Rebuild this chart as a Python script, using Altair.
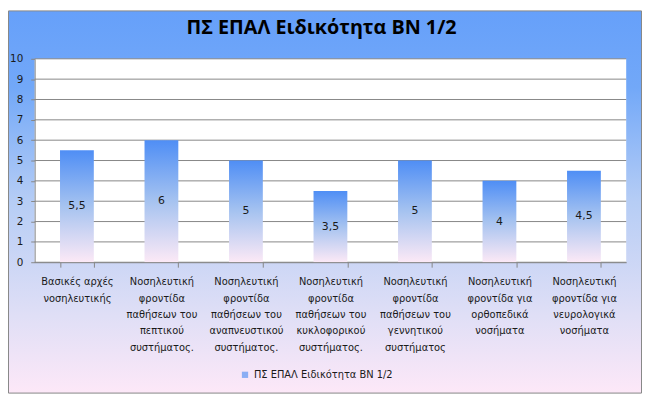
import altair as alt
import pandas as pd

categories = [
    "Βασικές αρχές|νοσηλευτικής",
    "Νοσηλευτική|φροντίδα|παθήσεων του|πεπτικού|συστήματος.",
    "Νοσηλευτική|φροντίδα|παθήσεων του|αναπνευστικού|συστήματος.",
    "Νοσηλευτική|φροντίδα|παθήσεων του|κυκλοφορικού|συστήματος.",
    "Νοσηλευτική|φροντίδα|παθήσεων του|γεννητικού|συστήματος",
    "Νοσηλευτική|φροντίδα για|ορθοπεδικά|νοσήματα",
    "Νοσηλευτική|φροντίδα για|νευρολογικά|νοσήματα",
]
values = [5.5, 6, 5, 3.5, 5, 4, 4.5]
y_ticks = list(range(0, 11))
series_name = "ΠΣ ΕΠΑΛ  Ειδικότητα ΒΝ 1/2"
title_text = "ΠΣ ΕΠΑΛ Ειδικότητα ΒΝ 1/2"

W, H = 599, 206
PL, PT, PR, PB = 27, 49, 16, 133

df = pd.DataFrame({"cat": categories, "value": values, "series": [series_name] * len(values)})
ticks_df = pd.DataFrame({"tick": y_ticks})

GRAY = "#868686"
TXT = "#1a1a1a"

bg_grad = alt.Gradient(
    gradient="linear", x1=0, x2=0, y1=0, y2=1,
    stops=[
        alt.GradientStop(color="#66a0fa", offset=0),
        alt.GradientStop(color="#72a8f8", offset=0.2),
        alt.GradientStop(color="#b6cdf5", offset=0.5),
        alt.GradientStop(color="#e0dff6", offset=0.8),
        alt.GradientStop(color="#fde8f8", offset=1),
    ],
)
bar_grad = alt.Gradient(
    gradient="linear", x1=0, x2=0, y1=0, y2=1,
    stops=[
        alt.GradientStop(color="#4f8ef5", offset=0),
        alt.GradientStop(color="#a6c3f0", offset=0.5),
        alt.GradientStop(color="#fce9f6", offset=1),
    ],
)

x_axis = alt.Axis(
    title=None, labelAngle=0, labelExpr="split(datum.label, '|')",
    labelLineHeight=16.5, labelFontSize=10, labelFont="DejaVu Sans", labelColor=TXT,
    tickBand="extent", tickSize=5, tickColor=GRAY, domainColor=GRAY,
    labelPadding=10, labelBaseline="top", labelOverlap=False, labelBound=False,
    labelLimit=200, grid=False, zindex=1,
)
y_axis = alt.Axis(
    title=None, values=y_ticks, grid=False, tickSize=4, tickColor=GRAY,
    domainColor=GRAY, labelFontSize=10.5, labelFont="DejaVu Sans", labelColor=TXT,
    labelPadding=8, zindex=1,
)
x_enc = alt.X("cat:N", sort=categories, scale=alt.Scale(paddingInner=0.6, paddingOuter=0.3), axis=x_axis)

one = alt.Data(values=[{"t": title_text}])

background = alt.Chart(one).mark_rect(fill=bg_grad, stroke=GRAY, strokeWidth=1).encode(
    x=alt.value(-PL + 0.5), x2=alt.value(W + PR - 0.5),
    y=alt.value(-PT + 0.5), y2=alt.value(H + PB - 0.5),
)
title_mark = alt.Chart(one).mark_text(
    font="Open Sans", fontSize=20, fontWeight="bold", color="#000", baseline="middle", align="center",
).encode(
    x=alt.value(W / 2 - 9), y=alt.value(-31), text="t:N",
)
plot_bg = alt.Chart(one).mark_rect(fill="white").encode(
    x=alt.value(0), x2=alt.value(W), y=alt.value(0), y2=alt.value(H),
)
grid = alt.Chart(ticks_df).mark_rule(color=GRAY, strokeWidth=1).encode(
    y=alt.Y("tick:Q", scale=alt.Scale(domain=[0, 10]), axis=y_axis),
)
# legend carrier: small squares hidden behind the bars
legend_layer = alt.Chart(df).transform_calculate(
    mid="datum.value / 2",
).mark_square(size=20, filled=True).encode(
    x=x_enc,
    y=alt.Y("mid:Q", scale=alt.Scale(domain=[0, 10]), axis=y_axis),
    color=alt.Color(
        "series:N", scale=alt.Scale(range=["#5c96f2"]),
        legend=alt.Legend(
            title=None, orient="none", legendX=208, legendY=315,
            symbolType="square", symbolSize=40, symbolStrokeWidth=0,
            labelFont="DejaVu Sans", labelFontSize=10,
            labelColor=TXT, zindex=1, labelLimit=300,
        ),
    ),
)
bars = alt.Chart(df).mark_bar(fill=bar_grad).encode(
    x=x_enc,
    y=alt.Y("value:Q", scale=alt.Scale(domain=[0, 10]), axis=y_axis),
)
labels = alt.Chart(df).transform_calculate(
    mid="datum.value / 2",
    lab="replace(format(datum.value, ''), '.', ',')",
).mark_text(font="DejaVu Sans", fontSize=11, color=TXT).encode(
    x=x_enc,
    y=alt.Y("mid:Q", scale=alt.Scale(domain=[0, 10]), axis=y_axis),
    text="lab:N",
)

chart = alt.layer(background, title_mark, plot_bg, grid, legend_layer, bars, labels).properties(
    width=W, height=H,
    autosize=alt.AutoSizeParams(type="none"),
    padding={"left": PL, "top": PT, "right": PR, "bottom": PB},
).configure_view(stroke=None)

chart.save("out.html", embed_options={"renderer": "svg", "actions": False})
